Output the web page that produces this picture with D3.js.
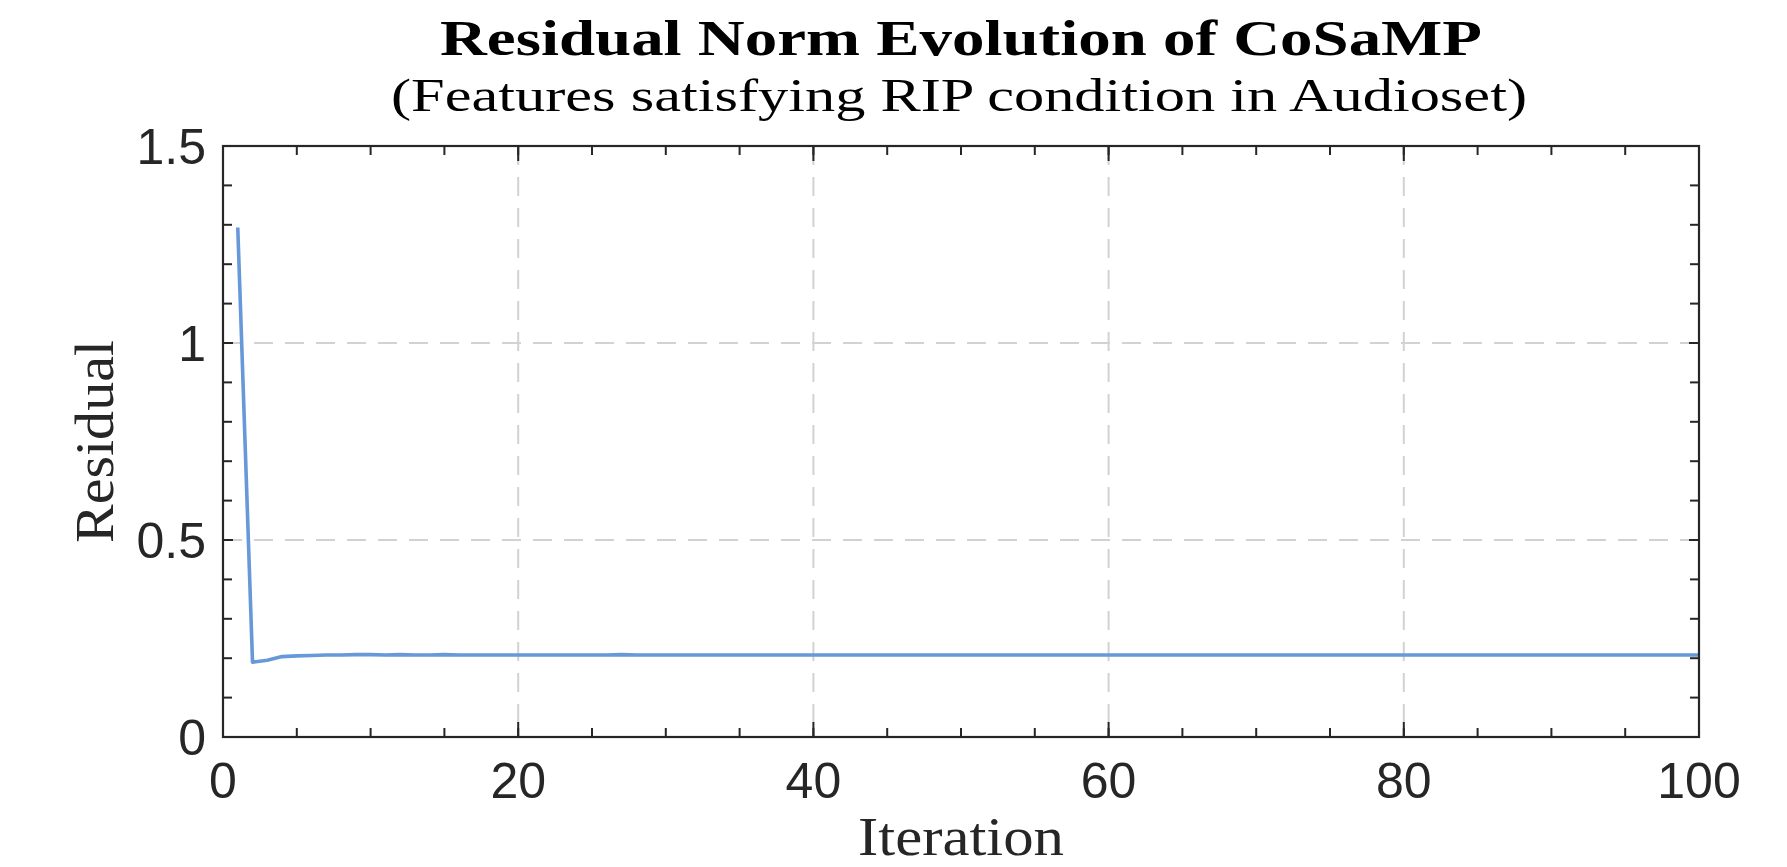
<!DOCTYPE html>
<html>
<head>
<meta charset="utf-8">
<script src="https://cdn.jsdelivr.net/npm/d3@7"></script>
<style>
  body { margin: 0; background: #fff; }
  svg { display: block; }
</style>
</head>
<body>
<svg id="chart" width="1787" height="867"></svg>
<script>
// residual norm per iteration
const iterations = d3.range(1, 101);
const residuals = [
  1.293, 0.190, 0.195, 0.204, 0.206, 0.207, 0.208, 0.208, 0.209, 0.209,
  0.208, 0.209, 0.208, 0.208, 0.209, 0.208, 0.208, 0.208, 0.208, 0.208,
  0.208, 0.208, 0.208, 0.208, 0.208, 0.208, 0.209, 0.208, 0.208, 0.208,
  0.208, 0.208, 0.208, 0.208, 0.208, 0.208, 0.208, 0.208, 0.208, 0.208,
  0.208, 0.208, 0.208, 0.208, 0.208, 0.208, 0.208, 0.208, 0.208, 0.208,
  0.208, 0.208, 0.208, 0.208, 0.208, 0.208, 0.208, 0.208, 0.208, 0.208,
  0.208, 0.208, 0.208, 0.208, 0.208, 0.208, 0.208, 0.208, 0.208, 0.208,
  0.208, 0.208, 0.208, 0.208, 0.208, 0.208, 0.208, 0.208, 0.208, 0.208,
  0.208, 0.208, 0.208, 0.208, 0.208, 0.208, 0.208, 0.208, 0.208, 0.208,
  0.208, 0.208, 0.208, 0.208, 0.208, 0.208, 0.208, 0.208, 0.208, 0.208
];
const xTicks = [0, 20, 40, 60, 80, 100];
const xMinorTicks = d3.range(0, 101, 5);
const yTicks = [0, 0.5, 1, 1.5];
const yTickLabels = ["0", "0.5", "1", "1.5"];
const yMinorTicks = d3.range(0, 16).map((d) => d / 10);

const titleText = "Residual Norm Evolution of CoSaMP";
const subtitleText = "(Features satisfying RIP condition in Audioset)";
const xLabel = "Iteration";
const yLabel = "Residual";

const margin = { top: 146, right: 88, bottom: 130, left: 223 };
const width = 1787 - margin.left - margin.right;
const height = 867 - margin.top - margin.bottom;

const axisColor = "#262626";
const lineColor = "#6698da";
const gridColor = "#d2d2d2";
const serif = "'Liberation Serif', 'Times New Roman', serif";
const sans = "'Liberation Sans', Arial, Helvetica, sans-serif";

const svg = d3.select("#chart");
const g = svg.append("g").attr("transform", `translate(${margin.left},${margin.top})`);

const x = d3.scaleLinear().domain([0, 100]).range([0, width]);
const y = d3.scaleLinear().domain([0, 1.5]).range([height, 0]);

// grid
g.selectAll(".grid-x")
  .data(xTicks.slice(1, -1))
  .enter()
  .append("line")
  .attr("class", "grid-x")
  .attr("x1", (d) => x(d))
  .attr("x2", (d) => x(d))
  .attr("y1", 0)
  .attr("y2", height)
  .attr("stroke", gridColor)
  .attr("stroke-width", 2)
  .attr("stroke-dasharray", "19,12");

g.selectAll(".grid-y")
  .data(yTicks.slice(1, -1))
  .enter()
  .append("line")
  .attr("class", "grid-y")
  .attr("x1", 0)
  .attr("x2", width)
  .attr("y1", (d) => y(d))
  .attr("y2", (d) => y(d))
  .attr("stroke", gridColor)
  .attr("stroke-width", 2)
  .attr("stroke-dasharray", "19,12");

// data line
const line = d3.line()
  .x((d, i) => x(iterations[i]))
  .y((d) => y(d));

g.append("path")
  .datum(residuals)
  .attr("d", line)
  .attr("fill", "none")
  .attr("stroke", lineColor)
  .attr("stroke-width", 3.6)
  .attr("stroke-linejoin", "round");

// box
g.append("rect")
  .attr("width", width)
  .attr("height", height)
  .attr("fill", "none")
  .attr("stroke", axisColor)
  .attr("stroke-width", 2.2);

// ticks, pointing inward on all four sides
const drawTicks = (vals, len, isX) => {
  vals.forEach((v) => {
    if (isX) {
      g.append("line").attr("x1", x(v)).attr("x2", x(v))
        .attr("y1", height).attr("y2", height - len)
        .attr("stroke", axisColor).attr("stroke-width", 2);
      g.append("line").attr("x1", x(v)).attr("x2", x(v))
        .attr("y1", 0).attr("y2", len)
        .attr("stroke", axisColor).attr("stroke-width", 2);
    } else {
      g.append("line").attr("y1", y(v)).attr("y2", y(v))
        .attr("x1", 0).attr("x2", len)
        .attr("stroke", axisColor).attr("stroke-width", 2);
      g.append("line").attr("y1", y(v)).attr("y2", y(v))
        .attr("x1", width).attr("x2", width - len)
        .attr("stroke", axisColor).attr("stroke-width", 2);
    }
  });
};
drawTicks(xMinorTicks, 9, true);
drawTicks(xTicks, 15, true);
drawTicks(yMinorTicks, 9, false);
drawTicks(yTicks, 10, false);

// tick labels
g.selectAll(".x-label")
  .data(xTicks)
  .enter()
  .append("text")
  .attr("class", "x-label")
  .attr("x", (d) => x(d))
  .attr("y", height + 61)
  .attr("text-anchor", "middle")
  .attr("font-family", sans)
  .attr("font-size", 50)
  .attr("fill", axisColor)
  .text((d) => d);

g.selectAll(".y-label")
  .data(yTicks)
  .enter()
  .append("text")
  .attr("class", "y-label")
  .attr("x", -17)
  .attr("y", (d) => y(d) + 18)
  .attr("text-anchor", "end")
  .attr("font-family", sans)
  .attr("font-size", 50)
  .attr("fill", axisColor)
  .text((d, i) => yTickLabels[i]);

// axis titles
svg.append("text")
  .attr("x", margin.left + width / 2)
  .attr("y", 855)
  .attr("text-anchor", "middle")
  .attr("font-family", serif)
  .attr("font-size", 54)
  .attr("fill", axisColor)
  .attr("textLength", 206)
  .attr("lengthAdjust", "spacingAndGlyphs")
  .text(xLabel);

svg.append("text")
  .attr("transform", `translate(113,${margin.top + height / 2}) rotate(-90)`)
  .attr("text-anchor", "middle")
  .attr("font-family", serif)
  .attr("font-size", 54)
  .attr("fill", axisColor)
  .attr("textLength", 203)
  .attr("lengthAdjust", "spacingAndGlyphs")
  .text(yLabel);

// titles
svg.append("text")
  .attr("x", 961)
  .attr("y", 55)
  .attr("text-anchor", "middle")
  .attr("font-family", serif)
  .attr("font-weight", "bold")
  .attr("font-size", 50)
  .attr("fill", "#000")
  .attr("textLength", 1042)
  .attr("lengthAdjust", "spacingAndGlyphs")
  .text(titleText);

svg.append("text")
  .attr("x", 959)
  .attr("y", 111)
  .attr("text-anchor", "middle")
  .attr("font-family", serif)
  .attr("font-size", 46)
  .attr("fill", "#000")
  .attr("textLength", 1136)
  .attr("lengthAdjust", "spacingAndGlyphs")
  .text(subtitleText);
</script>
</body>
</html>
